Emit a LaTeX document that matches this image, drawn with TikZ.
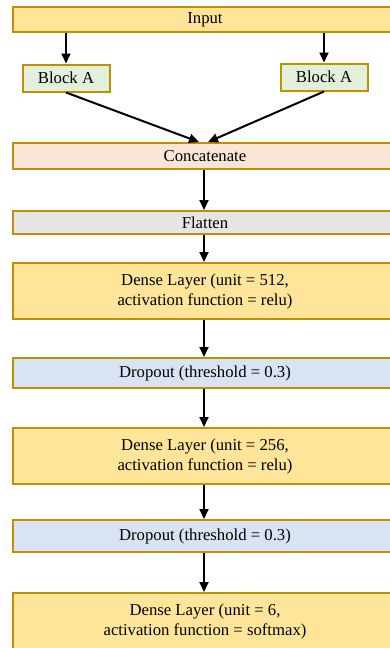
\documentclass[tikz,border=0pt]{standalone}
\usepackage{fontspec}
\setmainfont{Liberation Serif}
\usetikzlibrary{arrows.meta,calc}
\definecolor{bordgold}{HTML}{BF9000}
\definecolor{fillyellow}{HTML}{FFE599}
\definecolor{fillgreen}{HTML}{E2EFDA}
\definecolor{fillpeach}{HTML}{FBE5D6}
\definecolor{fillgrey}{HTML}{E7E6E6}
\definecolor{fillblue}{HTML}{DAE3F3}
\tikzset{
  box/.style={draw=bordgold, line width=2pt, rectangle, inner sep=0pt, align=center,
    font=\fontsize{16.7}{20}\selectfont, text=black},
  widebox/.style={box, minimum width=384pt},
  smallbox/.style={box, minimum width=87pt, minimum height=27pt, fill=fillgreen},
  conn/.style={draw=black, line width=2pt, -{Triangle[length=10pt,width=9pt]}},
}
\begin{document}
\begin{tikzpicture}[x=1pt,y=1pt]
\useasboundingbox (0,0) rectangle (390,-648);
\clip (0,0) rectangle (390,-648);
\fill[white] (0,0) rectangle (390,-648);

\node[widebox, fill=fillyellow, minimum height=25pt] (inp) at (205,-19.5) {Input};
\node[smallbox] (bl) at (66,-78) {Block A};
\node[smallbox] (br) at (324,-77) {Block A};
\node[widebox, fill=fillpeach, minimum height=26pt] (cat) at (205,-156) {Concatenate};
\node[widebox, fill=fillgrey, minimum height=23pt] (fl) at (205,-222.5) {Flatten};
\node[widebox, fill=fillyellow, minimum height=56pt] (d1) at (205,-291) {Dense Layer (unit = 512,\\activation function = relu)};
\node[widebox, fill=fillblue, minimum height=30pt] (dr1) at (205,-373) {Dropout (threshold = 0.3)};
\node[widebox, fill=fillyellow, minimum height=56pt] (d2) at (205,-456) {Dense Layer (unit = 256,\\activation function = relu)};
\node[widebox, fill=fillblue, minimum height=32pt] (dr2) at (205,-536) {Dropout (threshold = 0.3)};
\node[widebox, fill=fillyellow, minimum height=56pt] (d3) at (205,-621) {Dense Layer (unit = 6,\\activation function = softmax)};

\draw[conn] (inp.south -| bl.north) -- (bl.north);
\draw[conn] (inp.south -| br.north) -- (br.north);
\draw[conn] (bl.south) -- ($(cat.north)+(-6,0)$);
\draw[conn] (br.south) -- ($(cat.north)+(3,0)$);
\draw[conn] (cat.south -| 204,0) -- (fl.north -| 204,0);
\draw[conn] (fl.south -| 204,0) -- (d1.north -| 204,0);
\draw[conn] (d1.south -| 204,0) -- (dr1.north -| 204,0);
\draw[conn] (dr1.south -| 204,0) -- (d2.north -| 204,0);
\draw[conn] (d2.south -| 204,0) -- (dr2.north -| 204,0);
\draw[conn] (dr2.south -| 204,0) -- (d3.north -| 204,0);
\end{tikzpicture}
\end{document}
